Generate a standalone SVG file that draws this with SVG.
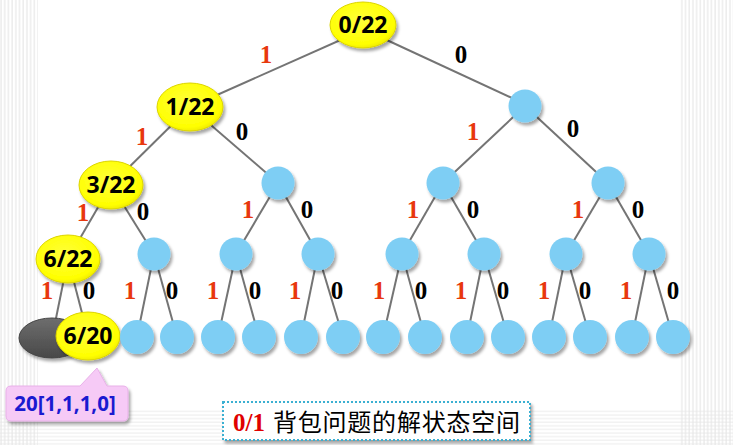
<svg xmlns="http://www.w3.org/2000/svg" width="733" height="445" viewBox="0 0 733 445">
<defs>
<style>
.e{stroke:#747474;stroke-width:2;fill:none}
.y{fill:url(#gy);stroke:#DCD400;stroke-width:1;filter:url(#sh)}
.b{fill:#7ECEF4;filter:url(#sh)}
.t{font-family:"Open Sans","DejaVu Sans",sans-serif;font-weight:bold;font-size:23px;fill:#000;text-anchor:middle}
.one{font-family:"Liberation Serif",serif;font-weight:bold;font-size:25px;fill:#E8380D;text-anchor:middle}
.zero{font-family:"Liberation Serif",serif;font-weight:bold;font-size:25px;fill:#000;text-anchor:middle}
</style>
<filter id="sh" x="-30%" y="-30%" width="170%" height="170%">
<feDropShadow dx="2" dy="3" stdDeviation="1.8" flood-color="#000" flood-opacity="0.35"/>
</filter>
<radialGradient id="gy" cx="0.45" cy="0.4" r="0.65">
<stop offset="0" stop-color="#FFFF3A"/>
<stop offset="0.8" stop-color="#FFFF00"/>
<stop offset="1" stop-color="#EAE400"/>
</radialGradient>
<linearGradient id="gg" x1="0" y1="0" x2="0" y2="1">
<stop offset="0" stop-color="#6E6E6E"/>
<stop offset="1" stop-color="#484848"/>
</linearGradient>
<pattern id="pv" width="3.7" height="10" patternUnits="userSpaceOnUse">
<rect x="0.5" y="0" width="1" height="10" fill="#E2E2E2"/>
</pattern>
<pattern id="ph" width="10" height="3.6" patternUnits="userSpaceOnUse">
<rect x="0" y="0.5" width="10" height="1" fill="#E6E6E6"/>
</pattern>
</defs>
<rect width="733" height="445" fill="#FFFFFF"/>
<g id="background">
<rect x="0" y="0" width="38" height="445" fill="url(#pv)"/>
<rect x="679" y="0" width="54" height="445" fill="url(#pv)"/>
<rect x="0" y="410" width="733" height="35" fill="url(#ph)" opacity="0.8"/>
</g>
<g id="connectors">
<line class="e" x1="363" y1="30" x2="190" y2="107"/>
<line class="e" x1="363" y1="29" x2="525" y2="104"/>
<line class="e" x1="190" y1="107" x2="111" y2="185"/>
<line class="e" x1="190" y1="107" x2="278" y2="183"/>
<line class="e" x1="525" y1="106" x2="443" y2="183"/>
<line class="e" x1="525" y1="106" x2="608" y2="183"/>
<line class="e" x1="111" y1="185" x2="68" y2="259"/>
<line class="e" x1="111" y1="185" x2="154" y2="254"/>
<line class="e" x1="278" y1="183" x2="236" y2="254"/>
<line class="e" x1="278" y1="183" x2="318" y2="254"/>
<line class="e" x1="443" y1="183" x2="402" y2="254"/>
<line class="e" x1="443" y1="183" x2="484" y2="254"/>
<line class="e" x1="608" y1="183" x2="566" y2="254"/>
<line class="e" x1="608" y1="183" x2="649" y2="254"/>
<line class="e" x1="68" y1="259" x2="52" y2="338"/>
<line class="e" x1="68" y1="259" x2="88" y2="336"/>
<line class="e" x1="154" y1="254" x2="137" y2="337"/>
<line class="e" x1="154" y1="254" x2="177" y2="337"/>
<line class="e" x1="236" y1="254" x2="218" y2="337"/>
<line class="e" x1="236" y1="254" x2="259" y2="337"/>
<line class="e" x1="318" y1="254" x2="301" y2="337"/>
<line class="e" x1="318" y1="254" x2="343" y2="337"/>
<line class="e" x1="402" y1="254" x2="383" y2="337"/>
<line class="e" x1="402" y1="254" x2="425" y2="337"/>
<line class="e" x1="484" y1="254" x2="467" y2="337"/>
<line class="e" x1="484" y1="254" x2="508" y2="337"/>
<line class="e" x1="566" y1="254" x2="549" y2="337"/>
<line class="e" x1="566" y1="254" x2="590" y2="337"/>
<line class="e" x1="649" y1="254" x2="632" y2="337"/>
<line class="e" x1="649" y1="254" x2="673" y2="337"/>
</g>
<g id="edge-labels">
<text class="one" x="266" y="63">1</text>
<text class="zero" x="461" y="63">0</text>
<text class="one" x="142" y="145">1</text>
<text class="zero" x="242" y="140">0</text>
<text class="one" x="473" y="140">1</text>
<text class="zero" x="573" y="137">0</text>
<text class="one" x="83" y="221">1</text>
<text class="zero" x="143" y="220">0</text>
<text class="one" x="248" y="218">1</text>
<text class="zero" x="307" y="218">0</text>
<text class="one" x="413" y="218">1</text>
<text class="zero" x="473" y="218">0</text>
<text class="one" x="578" y="218">1</text>
<text class="zero" x="638" y="218">0</text>
<text class="one" x="47" y="299">1</text>
<text class="zero" x="89" y="299">0</text>
<text class="one" x="130" y="299">1</text>
<text class="zero" x="172" y="299">0</text>
<text class="one" x="213" y="299">1</text>
<text class="zero" x="255" y="299">0</text>
<text class="one" x="295" y="299">1</text>
<text class="zero" x="337" y="299">0</text>
<text class="one" x="379" y="299">1</text>
<text class="zero" x="421" y="299">0</text>
<text class="one" x="461" y="299">1</text>
<text class="zero" x="503" y="299">0</text>
<text class="one" x="544" y="299">1</text>
<text class="zero" x="585" y="299">0</text>
<text class="one" x="626" y="299">1</text>
<text class="zero" x="673" y="299">0</text>
</g>
<g id="n-root"><ellipse class="y" cx="363" cy="25" rx="33" ry="23"/><text class="t" x="363" y="33">0/22</text></g>
<g id="n-1-22"><ellipse class="y" cx="190" cy="107" rx="33" ry="24"/><text class="t" x="190" y="115">1/22</text></g>
<g id="n-b1"><circle class="b" cx="525" cy="106" r="16.5"/></g>
<g id="n-3-22"><ellipse class="y" cx="111" cy="185" rx="32" ry="24"/><text class="t" x="111" y="193">3/22</text></g>
<g id="n-b2a"><circle class="b" cx="278" cy="183" r="16.5"/></g>
<g id="n-b2b"><circle class="b" cx="443" cy="183" r="16.5"/></g>
<g id="n-b2c"><circle class="b" cx="608" cy="183" r="16.5"/></g>
<g id="n-6-22"><ellipse class="y" cx="68" cy="259" rx="32" ry="24"/><text class="t" x="68" y="267">6/22</text></g>
<g id="n-b3a"><circle class="b" cx="154" cy="254" r="16.5"/></g>
<g id="n-b3b"><circle class="b" cx="236" cy="254" r="16.5"/></g>
<g id="n-b3c"><circle class="b" cx="318" cy="254" r="16.5"/></g>
<g id="n-b3d"><circle class="b" cx="402" cy="254" r="16.5"/></g>
<g id="n-b3e"><circle class="b" cx="484" cy="254" r="16.5"/></g>
<g id="n-b3f"><circle class="b" cx="566" cy="254" r="16.5"/></g>
<g id="n-b3g"><circle class="b" cx="649" cy="254" r="16.5"/></g>
<g id="n-grey"><ellipse cx="52" cy="338" rx="33" ry="20" fill="url(#gg)" stroke="#444" stroke-width="1" filter="url(#sh)"/></g>
<g id="n-6-20"><ellipse class="y" cx="88" cy="336" rx="32" ry="24"/><text class="t" x="88" y="344">6/20</text></g>
<g id="n-leaves">
<circle class="b" cx="137" cy="337" r="17"/>
<circle class="b" cx="177" cy="337" r="17"/>
<circle class="b" cx="218" cy="337" r="17"/>
<circle class="b" cx="259" cy="337" r="17"/>
<circle class="b" cx="301" cy="337" r="17"/>
<circle class="b" cx="343" cy="337" r="17"/>
<circle class="b" cx="383" cy="337" r="17"/>
<circle class="b" cx="425" cy="337" r="17"/>
<circle class="b" cx="467" cy="337" r="17"/>
<circle class="b" cx="508" cy="337" r="17"/>
<circle class="b" cx="549" cy="337" r="17"/>
<circle class="b" cx="590" cy="337" r="17"/>
<circle class="b" cx="632" cy="337" r="17"/>
<circle class="b" cx="673" cy="337" r="17"/>
</g>
<g id="callout">
<path d="M11,386 H80 L97,368 L107,386 H123 Q128,386 128,391 V416 Q128,421 123,421 H11 Q6,421 6,416 V391 Q6,386 11,386 Z" fill="#F6CAF6" stroke="#E8B0E8" stroke-width="1" filter="url(#sh)"/>
<text x="65" y="411" font-family="Open Sans, DejaVu Sans, sans-serif" font-weight="bold" font-size="20.5" fill="#1A1AD0" text-anchor="middle">20[1,1,1,0]</text>
</g>
<g id="caption">
<rect x="223" y="402" width="307" height="38" fill="#FFFFFF" stroke="#3AB0D2" stroke-width="2" stroke-dasharray="2 2" filter="url(#sh)"/>
<text x="233" y="431" font-family="Liberation Serif, serif" font-weight="bold" font-size="25" fill="#E00000">0/1</text>
<text x="273" y="431" font-family="Noto Sans CJK SC, sans-serif" font-size="24" fill="#000" textLength="247" lengthAdjust="spacing">背包问题的解状态空间</text>
</g>
</svg>
